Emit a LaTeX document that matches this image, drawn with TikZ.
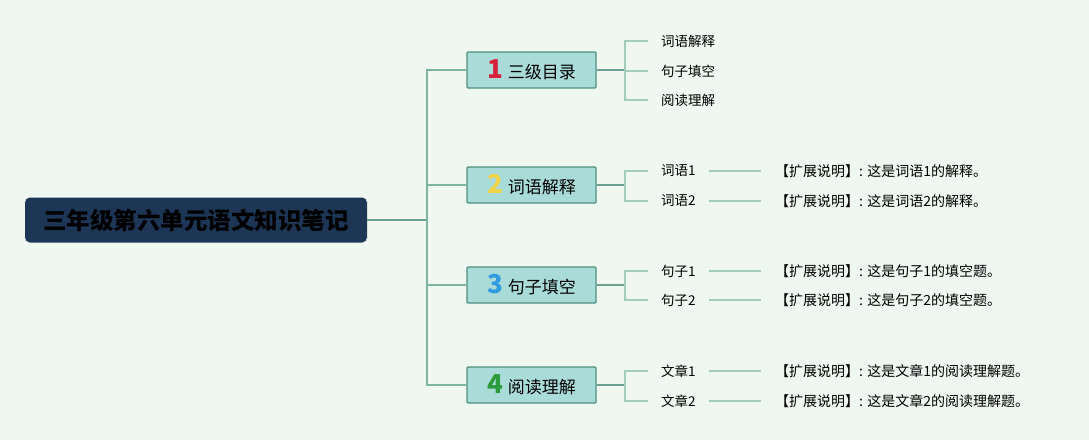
\documentclass[tikz,border=0pt]{standalone}
\usepackage{fontspec}
\setmainfont{Noto Sans CJK SC}
\usetikzlibrary{positioning}
\definecolor{bgmint}{HTML}{EEF8F1}
\definecolor{rootblue}{HTML}{1D3656}
\definecolor{boxfill}{HTML}{A9DBD9}
\definecolor{boxline}{HTML}{4F8F7F}
\definecolor{trunkline}{HTML}{7DB5A0}
\definecolor{twigline}{HTML}{A3CDB9}
\definecolor{nred}{HTML}{D5213A}
\definecolor{nyellow}{HTML}{F1D54C}
\definecolor{nblue}{HTML}{2F9BE0}
\definecolor{ngreen}{HTML}{2A9A3A}
\tikzstyle{root} = [fill=rootblue,rounded corners=5pt,minimum width=342pt,minimum height=45pt,inner sep=0,font=\fontsize{23.5}{23.5}\selectfont\bfseries]
\tikzstyle{topic} = [draw=boxline,fill=boxfill,line width=1.2pt,rounded corners=1pt,minimum width=129pt,minimum height=36pt,inner sep=0,font=\fontsize{17}{17}\selectfont]
\tikzstyle{sub} = [anchor=west,inner xsep=13pt,inner ysep=2pt,font=\fontsize{13.5}{13.5}\selectfont]
\tikzstyle{note} = [anchor=west,inner xsep=14pt,inner ysep=2pt,font=\fontsize{14}{14}\selectfont]
\tikzstyle{trunk} = [-,color=trunkline,line width=1.2pt]
\tikzstyle{stem} = [-,color=boxline!85,line width=1.4pt]
\tikzstyle{twig} = [-,color=twigline,line width=1.2pt]
\def \num #1#2{{\fontsize{26}{26}\selectfont\bfseries\color{#1}#2}\hspace{5pt}}

\begin{document}
\begin{tikzpicture}[x=1pt,y=-1pt]
  \fill[bgmint] (0,0) rectangle (1089,440);
  \useasboundingbox (0,0) rectangle (1089,440);

  \node[root] (root) at (196,220) {三年级第六单元语文知识笔记};
  \node[topic] (t1) at (531.5,70) {\num{nred}{1}三级目录};
  \node[topic] (t2) at (531.5,185) {\num{nyellow}{2}词语解释};
  \node[topic] (t3) at (531.5,285) {\num{nblue}{3}句子填空};
  \node[topic] (t4) at (531.5,385) {\num{ngreen}{4}阅读理解};

  \coordinate (hub) at (427,220);
  \draw[stem] (root.east) -- (hub);
  \draw[trunk] (hub) |- (t1.west);
  \draw[trunk] (hub) |- (t2.west);
  \draw[trunk] (hub) |- (t3.west);
  \draw[trunk] (hub) |- (t4.west);

  % topic 1
  \node[sub] (c11) at (648,41) {词语解释};
  \node[sub] (c12) at (648,71) {句子填空};
  \node[sub] (c13) at (648,100) {阅读理解};
  \coordinate (j1) at (625,70);
  \draw[stem] (t1.east) -- (j1);
  \draw[twig] (j1) |- (c11.west);
  \draw[twig] (j1) |- (c12.west);
  \draw[twig] (j1) |- (c13.west);

  % topic 2
  \node[sub] (c21) at (648,171) {词语1};
  \node[sub] (c22) at (648,201) {词语2};
  \coordinate (j2) at (625,185);
  \draw[stem] (t2.east) -- (j2);
  \draw[twig] (j2) |- (c21.west);
  \draw[twig] (j2) |- (c22.west);
  \node[note] (n21) at (761,171) {【扩展说明】: 这是词语1的解释。};
  \node[note] (n22) at (761,201) {【扩展说明】: 这是词语2的解释。};
  \draw[twig] (c21.east) -- (n21.west);
  \draw[twig] (c22.east) -- (n22.west);

  % topic 3
  \node[sub] (c31) at (648,271) {句子1};
  \node[sub] (c32) at (648,300) {句子2};
  \coordinate (j3) at (625,285);
  \draw[stem] (t3.east) -- (j3);
  \draw[twig] (j3) |- (c31.west);
  \draw[twig] (j3) |- (c32.west);
  \node[note] (n31) at (761,271) {【扩展说明】: 这是句子1的填空题。};
  \node[note] (n32) at (761,300) {【扩展说明】: 这是句子2的填空题。};
  \draw[twig] (c31.east) -- (n31.west);
  \draw[twig] (c32.east) -- (n32.west);

  % topic 4
  \node[sub] (c41) at (648,371) {文章1};
  \node[sub] (c42) at (648,401) {文章2};
  \coordinate (j4) at (625,385);
  \draw[stem] (t4.east) -- (j4);
  \draw[twig] (j4) |- (c41.west);
  \draw[twig] (j4) |- (c42.west);
  \node[note] (n41) at (761,371) {【扩展说明】: 这是文章1的阅读理解题。};
  \node[note] (n42) at (761,401) {【扩展说明】: 这是文章2的阅读理解题。};
  \draw[twig] (c41.east) -- (n41.west);
  \draw[twig] (c42.east) -- (n42.west);
\end{tikzpicture}
\end{document}
